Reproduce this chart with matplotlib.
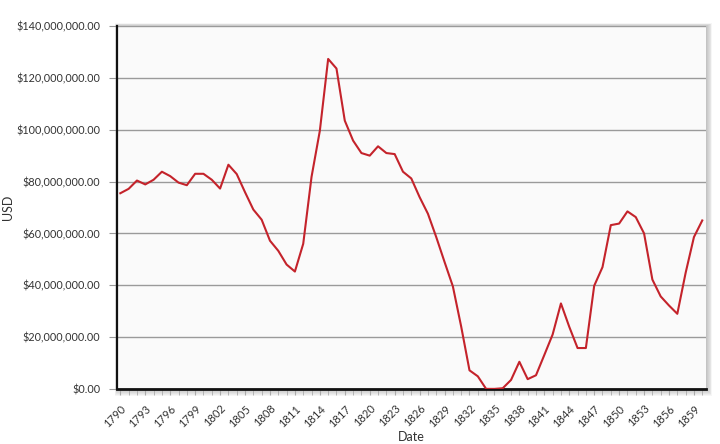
import matplotlib
matplotlib.use("Agg")
import matplotlib.pyplot as plt
from matplotlib.patches import Rectangle
from matplotlib.ticker import FuncFormatter, MultipleLocator

plt.rcParams['font.family'] = ['Lato', 'DejaVu Sans']

# US public debt, 1790-1860 (USD)
years = list(range(1790, 1861))
debt = [
    75.5, 77.2, 80.4, 78.9, 80.7, 83.8, 82.1, 79.6, 78.6, 83.0,
    83.0, 80.7, 77.3, 86.5, 82.9, 75.9, 69.2, 65.3, 57.2, 53.3,
    48.0, 45.3, 56.0, 81.8, 99.6, 127.3, 123.6, 103.5, 95.8, 91.0,
    90.0, 93.6, 91.0, 90.6, 83.8, 81.2, 74.0, 67.6, 58.6, 49.0,
    39.6, 24.1, 7.2, 4.9, 0.05, 0.04, 0.3, 3.5, 10.5, 3.8,
    5.3, 13.1, 21.0, 33.0, 24.0, 15.8, 15.8, 39.8, 47.0, 63.2,
    63.8, 68.5, 66.3, 60.0, 42.2, 35.7, 32.2, 29.0, 44.8, 58.6,
    65.0,
]
debt = [d * 1e6 for d in debt]
tick_years = years[::3]

W, H = 720, 444
fig = plt.figure(figsize=(7.2, 4.44), dpi=100)
left, bottom, right, top = 117, 55, 706, 418  # pixel frame of the plot area
ax = fig.add_axes([left / W, bottom / H, (right - left) / W, (top - bottom) / H])
ax.set_facecolor('#fafafa')

# soft drop shadow behind the plot area
for i in range(1, 8):
    fig.patches.append(Rectangle(((left - i * 0.3) / W, (bottom - i) / H),
                                 (right - left + i * 1.2) / W, (top - bottom + i * 1.4) / H,
                                 transform=fig.transFigure, facecolor='black',
                                 edgecolor='none', alpha=0.035, zorder=-1))

x = list(range(len(years)))
ax.plot(x, debt, color='#c4232b', linewidth=1.5, zorder=3)

ax.set_xlim(-0.4, len(years) - 0.55)
ax.set_ylim(0, 140e6)
ax.set_yticks([i * 20e6 for i in range(8)])
ax.yaxis.set_major_formatter(FuncFormatter(lambda v, p: f"${v:,.2f}"))
ax.set_xticks([years.index(y) for y in tick_years])
ax.set_xticklabels([str(y) for y in tick_years], rotation=45, ha='right',
                   rotation_mode='anchor')
ax.xaxis.set_minor_locator(MultipleLocator(1))

ax.grid(axis='y', color='#9a9a9a', linewidth=1.0, zorder=1)
ax.set_axisbelow(True)

for s in ['top', 'right']:
    ax.spines[s].set_visible(False)
ax.spines['left'].set_color('#111111')
ax.spines['left'].set_linewidth(1.6)
ax.spines['bottom'].set_color('#111111')
ax.spines['bottom'].set_linewidth(2.0)

ax.tick_params(axis='y', length=6, color='#999999', labelsize=7.8,
               labelcolor='#333333', pad=6)
ax.tick_params(axis='x', which='both', length=4, color='#aaaaaa', labelsize=8,
               labelcolor='#333333', pad=6)

ax.set_xlabel('Date', fontsize=9, color='#333333', va='center')
ax.xaxis.set_label_coords(0.5, -0.132)
ax.set_ylabel('USD', fontsize=9, color='#333333', va='center')
ax.yaxis.set_label_coords(-0.185, 0.5)

fig.savefig('out.png', dpi=100, facecolor='white')
